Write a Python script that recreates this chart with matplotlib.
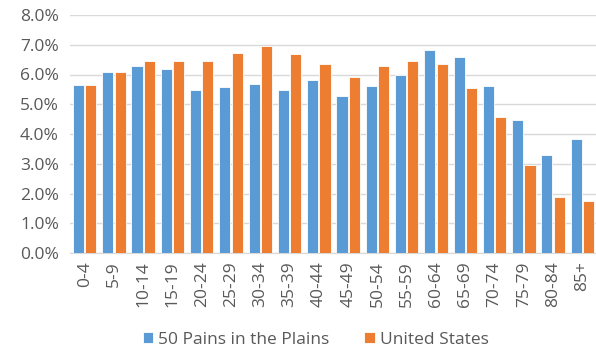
import numpy as np
import matplotlib
matplotlib.use('Agg')
import matplotlib.pyplot as plt
from matplotlib.ticker import PercentFormatter

age_groups = ['0-4', '5-9', '10-14', '15-19', '20-24', '25-29', '30-34', '35-39', '40-44',
              '45-49', '50-54', '55-59', '60-64', '65-69', '70-74', '75-79', '80-84', '85+']
plains = [5.65, 6.07, 6.29, 6.18, 5.48, 5.58, 5.69, 5.48, 5.82,
          5.28, 5.6, 5.98, 6.84, 6.58, 5.6, 4.46, 3.28, 3.82]
united_states = [5.65, 6.07, 6.45, 6.45, 6.45, 6.73, 6.95, 6.69, 6.36,
                 5.92, 6.3, 6.46, 6.36, 5.54, 4.58, 2.96, 1.87, 1.76]

plt.rcParams['font.family'] = ['Open Sans', 'DejaVu Sans']

fig = plt.figure(figsize=(5.96, 3.58), dpi=100)
ax = fig.add_axes([70 / 596, 105 / 358, 527 / 596, 238 / 358])

x = np.arange(len(age_groups))
w = 0.38
ax.bar(x - 0.21, plains, w, color='#5b9bd5', edgecolor='white', linewidth=0.6,
       label='50 Pains in the Plains', zorder=3)
ax.bar(x + 0.21, united_states, w, color='#ed7d31', edgecolor='white', linewidth=0.6,
       label='United States', zorder=3)

ax.set_xlim(-0.5, len(age_groups) - 0.5)
ax.set_ylim(0, 8)
ax.set_yticks(np.arange(0, 8.1, 1))
ax.yaxis.set_major_formatter(PercentFormatter(decimals=1))
ax.grid(axis='y', color='#d9d9d9', linewidth=1, zorder=0)

for s in ['top', 'right', 'left']:
    ax.spines[s].set_visible(False)
ax.spines['bottom'].set_color('#d9d9d9')

ax.set_xticks(x)
ax.set_xticklabels(age_groups, rotation=90)
ax.tick_params(axis='both', length=0, colors='#595959', labelsize=12.5)
ax.tick_params(axis='x', pad=6)
ax.tick_params(axis='y', pad=8)

fig.legend(loc='lower center', bbox_to_anchor=(0.53, -0.015), ncol=2, frameon=False,
           fontsize=12.5, labelcolor='#595959', handlelength=0.6, handleheight=0.6,
           handletextpad=0.3, columnspacing=2.0)

fig.savefig('out.png', dpi=100)
